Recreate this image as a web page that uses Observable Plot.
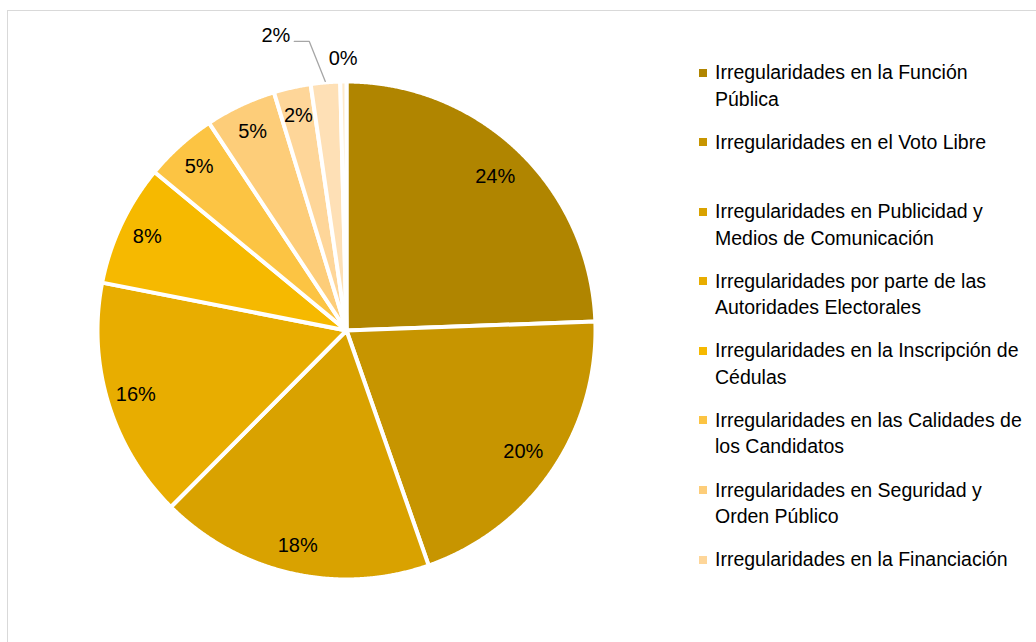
<!DOCTYPE html>
<html>
<head>
<meta charset="utf-8">
<script src="https://cdn.jsdelivr.net/npm/d3@7"></script>
<script src="https://cdn.jsdelivr.net/npm/@observablehq/plot@0.6"></script>
<style>
html,body{margin:0;padding:0;background:#fff;}
body{width:1036px;height:642px;overflow:hidden;position:relative;font-family:"Liberation Sans",Arial,sans-serif;}
#frame{position:absolute;left:7px;top:10px;width:1100px;height:700px;border-top:1.5px solid #d9d9d9;border-left:1.5px solid #d9d9d9;box-sizing:border-box;}
#chart{position:absolute;left:0;top:0;}
#legend{position:absolute;left:697px;top:59px;width:340px;}
.item{position:relative;height:69.6px;padding-left:18px;box-sizing:border-box;}
.sw{position:absolute;left:2px;top:9.5px;width:8px;height:8px;}
.txt{font-size:19.5px;line-height:26.5px;color:#000;width:316px;}
</style>
</head>
<body>
<div id="frame"></div>
<div id="chart"></div>
<div id="legend"></div>
<script>
// ---- data ----
const categories = [
  "Irregularidades en la Función Pública",
  "Irregularidades en el Voto Libre",
  "Irregularidades en Publicidad y Medios de Comunicación",
  "Irregularidades por parte de las Autoridades Electorales",
  "Irregularidades en la Inscripción de Cédulas",
  "Irregularidades en las Calidades de los Candidatos",
  "Irregularidades en Seguridad y Orden Público",
  "Irregularidades en la Financiación",
  "Otras irregularidades",
  "Sin clasificar"
];
const values = [24.4, 20.2, 17.8, 15.6, 7.9, 4.7, 4.6, 2.4, 1.9, 0.4];
const colors = ["#b08500", "#c79500", "#d9a200", "#e8ad00", "#f6b900", "#fcc443", "#fdcd79", "#fed699", "#fee0b6", "#ffeacb"];
const legendCount = 8; // entries visible in the legend

// ---- layout ----
const W = 680, H = 642;
const cx = 346, cy = 330, R = 249;
const polar = (a, r) => [cx + r * Math.sin(a), cy - r * Math.cos(a)];

const total = d3.sum(values);
const arcs = d3.pie().sort(null).value(d => d)(values);

const marks = [];
arcs.forEach((a, i) => {
  const pts = [{x: cx, y: cy}];
  const n = Math.max(2, Math.ceil((a.endAngle - a.startAngle) / 0.004));
  for (let k = 0; k <= n; k++) {
    const t = a.startAngle + (a.endAngle - a.startAngle) * k / n;
    const [x, y] = polar(t, R);
    pts.push({x, y});
  }
  pts.push({x: cx, y: cy});
  marks.push(Plot.line(pts, {x: "x", y: "y", fill: colors[i], stroke: "white", strokeWidth: 4, strokeLinejoin: "round", curve: "linear"}));
});

const pct = v => Math.round(v / total * 100) + "%";
const inside = [], outside = [], leaders = [];
arcs.forEach((a, i) => {
  const mid = (a.startAngle + a.endAngle) / 2;
  const v = values[i];
  if (v >= 2.2) {
    const r = i < 2 ? R * 0.86 : R * 0.885;
    const [x, y] = polar(mid, r);
    inside.push({x, y, t: pct(v)});
  } else if (i === arcs.length - 1) {
    const [x, y] = polar(mid, R + 23);
    outside.push({x, y, t: pct(v), anchor: "middle"});
  } else {
    const [ax, ay] = polar(mid, R + 1);
    const bx = ax - 16, by = ay - 40, ex = bx - 15;
    leaders.push({x: ax, y: ay, g: i}, {x: bx, y: by, g: i}, {x: ex, y: by, g: i});
    outside.push({x: ex - 4, y: by - 6, t: pct(v), anchor: "end"});
  }
});

marks.push(Plot.line(leaders, {x: "x", y: "y", z: "g", stroke: "#a6a6a6", strokeWidth: 1.3}));
marks.push(Plot.text(inside, {x: "x", y: "y", text: "t", fontSize: 20, fill: "#000"}));
marks.push(Plot.text(outside.filter(d => d.anchor === "middle"), {x: "x", y: "y", text: "t", fontSize: 20, fill: "#000"}));
marks.push(Plot.text(outside.filter(d => d.anchor === "end"), {x: "x", y: "y", text: "t", fontSize: 20, fill: "#000", textAnchor: "end"}));

const chart = Plot.plot({
  width: W, height: H,
  margin: 0,
  x: {domain: [0, W], range: [0, W], axis: null},
  y: {domain: [0, H], range: [0, H], axis: null},
  style: {fontFamily: "'Liberation Sans', Arial, sans-serif", background: "transparent", overflow: "visible"},
  marks
});
document.getElementById("chart").appendChild(chart);

// ---- legend ----
const leg = document.getElementById("legend");
categories.slice(0, legendCount).forEach((c, i) => {
  const it = document.createElement("div");
  it.className = "item";
  it.innerHTML = `<div class="sw" style="background:${colors[i]}"></div><div class="txt">${c}</div>`;
  leg.appendChild(it);
});
</script>
</body>
</html>
